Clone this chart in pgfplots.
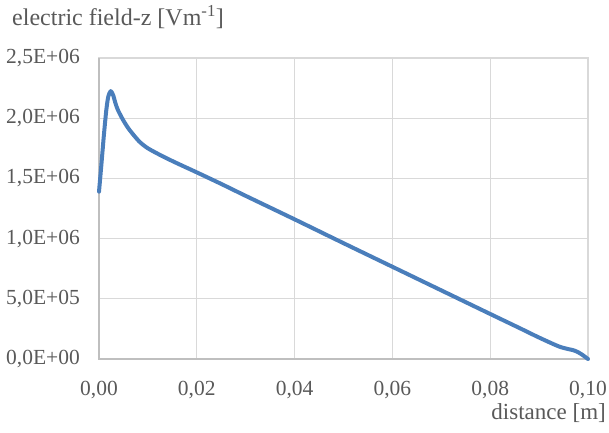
\documentclass[border=0pt]{standalone}
\usepackage{fontspec}
\setmainfont{Liberation Serif}
\usepackage{pgfplots}
\pgfplotsset{compat=1.18}
\definecolor{lineblue}{HTML}{4A7EBB}
\definecolor{gridgray}{HTML}{D9D9D9}
\definecolor{axisgray}{HTML}{BFBFBF}
\definecolor{textgray}{HTML}{595959}
\begin{document}
\begin{tikzpicture}[x=1pt,y=1pt]
\useasboundingbox (0,0) rectangle (609,432);
\begin{axis}[
  at={(99pt,73pt)}, anchor=south west,
  scale only axis, width=489pt, height=301pt,
  xmin=0, xmax=0.1, ymin=0, ymax=2.5e6,
  xtick={0,0.02,0.04,0.06,0.08,0.1},
  xticklabels={{0,00},{0,02},{0,04},{0,06},{0,08},{0,10}},
  ytick={0,5e5,1e6,1.5e6,2e6,2.5e6},
  yticklabels={{0,0E+00},{5,0E+05},{1,0E+06},{1,5E+06},{2,0E+06},{2,5E+06}},
  scaled x ticks=false, scaled y ticks=false,
  major tick length=0pt,
  grid=major, major grid style={draw=gridgray, line width=1.2pt},
  axis line style={draw=gridgray, line width=1.2pt},
  tick label style={font=\fontsize{21.5}{25}\selectfont, text=textgray, inner sep=0pt},
  yticklabel style={anchor=east, xshift=-19pt},
  xticklabel style={anchor=base, yshift=-36pt},
  clip=false,
]
\draw[axisgray, line width=1.2pt] (axis cs:0,2.5e6) -- (axis cs:0,0) -- (axis cs:0.1,0);
\addplot[lineblue, line width=4pt, smooth, tension=0.45, line join=round, line cap=round] coordinates {
  (0,1.39e6) (0.0005,1.62e6) (0.001,1.86e6) (0.0015,2.07e6) (0.0019,2.18e6)
  (0.0024,2.225e6) (0.0029,2.19e6) (0.0034,2.12e6) (0.0039,2.065e6)
  (0.005,1.98e6) (0.0062,1.905e6) (0.0082,1.808e6) (0.010,1.75e6)
  (0.013,1.684e6) (0.016,1.625e6) (0.02,1.55e6) (0.025,1.454e6)
  (0.03,1.355e6) (0.04,1.16e6) (0.05,0.962e6) (0.06,0.766e6)
  (0.07,0.570e6) (0.08,0.374e6) (0.086,0.257e6) (0.09,0.178e6)
  (0.094,0.105e6) (0.096,0.082e6) (0.097,0.073e6) (0.098,0.056e6)
  (0.099,0.03e6) (0.1,0)
};
\end{axis}
\node[anchor=base west, text=textgray, font=\fontsize{24}{28}\selectfont, inner sep=0pt] at (12,406) {electric field-z [Vm\textsuperscript{-1}]};
\node[anchor=base east, text=textgray, font=\fontsize{23}{27}\selectfont, inner sep=0pt] at (606,13) {distance [m]};
\end{tikzpicture}
\end{document}
